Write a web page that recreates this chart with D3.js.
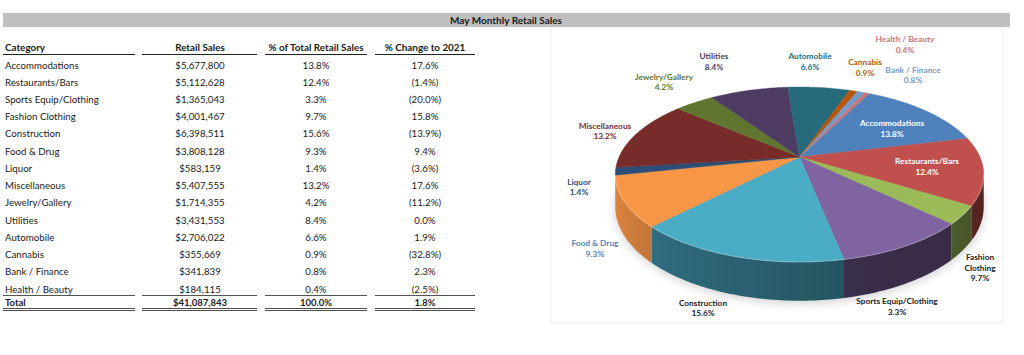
<!DOCTYPE html>
<html>
<head>
<meta charset="utf-8">
<script src="https://cdn.jsdelivr.net/npm/d3@7"></script>
<style>
    html, body { margin: 0; padding: 0; background: #fff; }
    svg { display: block; }
    text { font-family: Lato, "Open Sans", sans-serif; fill: #1a1a1a; }
</style>
</head>
<body>
<div id="chart"></div>
<script>
var titleText = "May Monthly Retail Sales";
var headers = ["Category", "Retail Sales", "% of Total Retail Sales", "% Change to 2021"];

var categories = ["Accommodations", "Restaurants/Bars", "Sports Equip/Clothing", "Fashion Clothing", "Construction",
    "Food & Drug", "Liquor", "Miscellaneous", "Jewelry/Gallery", "Utilities", "Automobile", "Cannabis",
    "Bank / Finance", "Health / Beauty"];
var retailSales = [5677800, 5112628, 1365043, 4001467, 6398511, 3808128, 583159, 5407555, 1714355, 3431553,
    2706022, 355669, 341839, 184115];
var shareOfTotal = [13.8, 12.4, 3.3, 9.7, 15.6, 9.3, 1.4, 13.2, 4.2, 8.4, 6.6, 0.9, 0.8, 0.4];
var changeTo2021 = [17.6, -1.4, -20.0, 15.8, -13.9, 9.4, -3.6, 17.6, -11.2, 0.0, 1.9, -32.8, 2.3, -2.5];
var totalRow = { sales: 41087843, share: 100.0, change: 1.8 };

var sliceColors = ["#4F81BD", "#C0504D", "#9BBB59", "#8064A2", "#4BACC6", "#F79646", "#2C4D75", "#772C2A",
    "#5F7530", "#4D3B62", "#276A7C", "#B65708", "#729ACA", "#CD7371"];
var labelColors = ["#ffffff", "#ffffff", "#222222", "#222222", "#222222", "#4F81BD", "#2C4D75", "#772C2A",
    "#5F7530", "#4D3B62", "#276A7C", "#B65708", "#729ACA", "#CD7371"];

var width = 1024, height = 355;

var svg = d3.select("#chart").append("svg")
    .attr("width", width)
    .attr("height", height);

var defs = svg.append("defs");
defs.append("filter").attr("id", "soft")
    .attr("x", "-20%").attr("y", "-20%").attr("width", "140%").attr("height", "140%")
    .append("feGaussianBlur").attr("stdDeviation", 4);

var money = d3.format("$,.0f");
var pct = function(d) { return d.toFixed(1) + "%"; };
var signedPct = function(d) { return d < 0 ? "(" + Math.abs(d).toFixed(1) + "%)" : d.toFixed(1) + "%"; };

// title bar
svg.append("rect")
    .attr("x", 3).attr("y", 13)
    .attr("width", 1007).attr("height", 14)
    .attr("fill", "#BFBFBF");
svg.append("text")
    .attr("x", 506).attr("y", 24)
    .attr("text-anchor", "middle")
    .style("font-size", "10px").style("font-weight", "700")
    .text(titleText);

// table
var columns = [
    { x0: 3, x1: 135, textX: 5, anchor: "start" },
    { x0: 142, x1: 257, textX: 200, anchor: "middle" },
    { x0: 265, x1: 367, textX: 316, anchor: "middle" },
    { x0: 375, x1: 475, textX: 425, anchor: "middle" }
];

var rowY = d3.scalePoint()
    .domain(categories)
    .range([68.5, 292.5]);

var table = svg.append("g").attr("class", "table");
var rowCells = function(i) {
    return [categories[i], money(retailSales[i]), pct(shareOfTotal[i]), signedPct(changeTo2021[i])];
};

columns.forEach(function(col, c) {
    table.append("text")
        .attr("x", col.textX).attr("y", 51)
        .attr("text-anchor", col.anchor)
        .style("font-size", "9.9px").style("font-weight", "700")
        .text(headers[c]);

    table.selectAll(null)
        .data(categories)
        .enter().append("text")
        .attr("x", col.textX)
        .attr("y", function(d) { return rowY(d); })
        .attr("text-anchor", col.anchor)
        .style("font-size", "9.7px")
        .text(function(d, i) { return rowCells(i)[c]; });

    table.append("text")
        .attr("x", col.textX).attr("y", 305.5)
        .attr("text-anchor", col.anchor)
        .style("font-size", "9.5px").style("font-weight", "700")
        .text(["Total", money(totalRow.sales), pct(totalRow.share), pct(totalRow.change)][c]);

    // header rule, total rule, double rule
    [54.5, 295.5, 308.5, 310.5].forEach(function(y) {
        table.append("line")
            .attr("x1", col.x0).attr("x2", col.x1)
            .attr("y1", y).attr("y2", y)
            .attr("stroke", y === 295.5 ? "#555" : "#222")
            .attr("stroke-width", y > 300 ? 0.8 : 1);
    });
});

// chart panel
svg.append("rect")
    .attr("x", 551).attr("y", 28)
    .attr("width", 452).attr("height", 295)
    .attr("fill", "#fff")
    .attr("stroke", "#EDEDED");

// pie in perspective: cx/cy is the apex, depth squeezes the back edge
var cx = 799.5, cy = 157, radiusX = 180.5, radiusY = 84, depth = 0.2, wallHeight = 31;

var project = function(r, angle, drop) {
    var u = r * Math.sin(angle);
    var v = -r * Math.cos(angle);
    var k = 1 / (1 - depth * v);
    return [cx + radiusX * u * k, cy + radiusY * v * k + (drop || 0) * k];
};

var pieStart = 27 * Math.PI / 180;
var pie = d3.pie().sort(null).startAngle(pieStart).endAngle(pieStart + 2 * Math.PI);
var slices = pie(retailSales);

var line = d3.line();
var sampleAngles = function(a0, a1) {
    var n = Math.max(2, Math.ceil((a1 - a0) * 60));
    return d3.range(n + 1).map(function(i) { return a0 + (a1 - a0) * i / n; });
};

// part of the outer wall facing the viewer
var wallFrom = 101.5 * Math.PI / 180;
var wallTo = 258.5 * Math.PI / 180;

// how much darker each visible wall is, left end then right end
var wallDarken = {
    1: [2.2, 2.4],
    2: [2.0, 2.2],
    3: [2.2, 2.3],
    4: [1.3, 2.0],
    5: [0.35, 0.7],
    6: [0.5, 0.8]
};

var pieGroup = svg.append("g").attr("class", "pie");

// soft shadow under the pie
pieGroup.append("path")
    .attr("d", line(sampleAngles(0, 2 * Math.PI).map(function(a) { return project(1.005, a, wallHeight + 2); })))
    .attr("fill", "#8a8a8a")
    .attr("opacity", 0.35)
    .attr("filter", "url(#soft)");

slices.forEach(function(s, i) {
    var a0 = Math.max(s.startAngle, wallFrom);
    var a1 = Math.min(s.endAngle, wallTo);
    if (a1 <= a0) {
        return;
    }
    var base = d3.color(sliceColors[i]);
    var gradId = "wall-" + i;
    var grad = defs.append("linearGradient").attr("id", gradId)
        .attr("gradientUnits", "userSpaceOnUse")
        .attr("x1", project(1, a1)[0]).attr("x2", project(1, a0)[0])
        .attr("y1", 0).attr("y2", 0);
    grad.append("stop").attr("offset", "0%").attr("stop-color", base.darker(wallDarken[i][0]));
    grad.append("stop").attr("offset", "100%").attr("stop-color", base.darker(wallDarken[i][1]));

    var top = sampleAngles(a0, a1).map(function(a) { return project(1, a); });
    var bottom = sampleAngles(a0, a1).reverse().map(function(a) { return project(1, a, wallHeight); });
    pieGroup.append("path")
        .attr("d", line(top.concat(bottom)) + "Z")
        .attr("fill", "url(#" + gradId + ")");
});

slices.forEach(function(s, i) {
    var outer = sampleAngles(s.startAngle, s.endAngle).map(function(a) { return project(1, a); });
    pieGroup.append("path")
        .attr("d", line([[cx, cy]].concat(outer)) + "Z")
        .attr("fill", sliceColors[i])
        .attr("stroke", sliceColors[i])
        .attr("stroke-width", 0.4);
});

// light rim along the front edge
pieGroup.append("path")
    .attr("d", line(sampleAngles(wallFrom, wallTo).map(function(a) { return project(1, a); })))
    .attr("fill", "none")
    .attr("stroke", "#fff")
    .attr("stroke-opacity", 0.22)
    .attr("stroke-width", 1.2);

// labels were placed by hand in the original, so they are looked up by name
var labelSpots = {
    "Accommodations": [892, 126],
    "Restaurants/Bars": [927, 164],
    "Sports Equip/Clothing": [897, 304],
    "Fashion Clothing": [980, 260],
    "Construction": [703, 305.5],
    "Food & Drug": [595, 246],
    "Liquor": [579, 184.5],
    "Miscellaneous": [605, 128.5],
    "Jewelry/Gallery": [664, 79.5],
    "Utilities": [714, 59],
    "Automobile": [810, 59],
    "Cannabis": [865, 65],
    "Bank / Finance": [913, 72.5],
    "Health / Beauty": [905, 42]
};

var labels = svg.append("g").attr("class", "labels")
    .selectAll("text")
    .data(categories)
    .enter().append("text")
    .attr("text-anchor", "middle")
    .style("font-size", "8.3px")
    .style("font-weight", "700")
    .style("fill", function(d, i) { return labelColors[i]; });

labels.each(function(d, i) {
    var lines = d === "Fashion Clothing" ? ["Fashion", "Clothing"] : [d];
    lines.push(pct(shareOfTotal[i]));
    var spot = labelSpots[d];
    d3.select(this).selectAll("tspan")
        .data(lines)
        .enter().append("tspan")
        .attr("x", spot[0])
        .attr("y", function(t, j) { return spot[1] + j * 10.6; })
        .text(function(t) { return t; });
});
</script>
</body>
</html>
